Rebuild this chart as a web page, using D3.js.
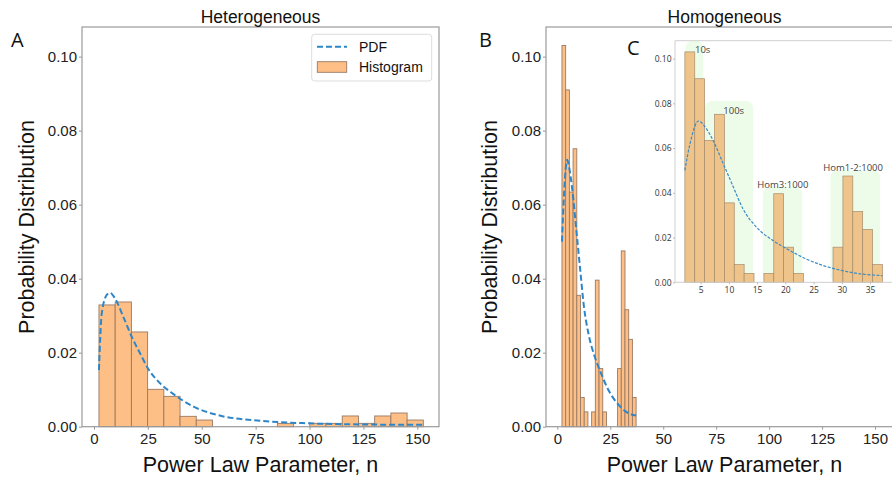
<!DOCTYPE html>
<html>
<head>
<meta charset="utf-8">
<script src="https://cdn.jsdelivr.net/npm/d3@7"></script>
<style>
  body { margin: 0; background: #fff; }
  svg { display: block; font-family: "Liberation Sans", Arial, sans-serif; }
  .frame { fill: none; stroke: #9a9a9a; stroke-width: 1.2; }
  .axis path { display: none; }
  .axis line { stroke: #9a9a9a; }
  .axis text { fill: #222; font-size: 15px; font-family: "Liberation Sans", Arial, sans-serif; }
  .inset .axis text { fill: #333; font-size: 8.5px; font-family: "Open Sans", sans-serif; }
  .inset .axis line { stroke: #bbb; }
</style>
</head>
<body>
<svg id="chart" width="892" height="477"></svg>
<script>
// Heterogeneous histogram (20 bins)
var heteroBinStart = 2.3, heteroBinWidth = 7.525;
var heteroHist = [0.0329, 0.0337, 0.0256, 0.0101, 0.0082, 0.0028, 0.0018, 0, 0, 0,
                  0, 0.0009, 0, 0.0009, 0.0009, 0.0029, 0.0009, 0.0029, 0.0037, 0.0018];
var heteroPdfX = [2.3, 3.6, 5.9, 7.4, 9.7, 13.6, 17.5, 21.4, 25.3, 30.7, 36.9, 46.2, 57.0, 77.1, 100, 125, 152.8];
var heteroPdfY = [0.0153, 0.0306, 0.0356, 0.0362, 0.0347, 0.0297, 0.0243, 0.0198, 0.0155, 0.0117,
                  0.0088, 0.0054, 0.0032, 0.0016, 0.0009, 0.0006, 0.0005];

// Homogeneous histogram (20 bins)
var homoBinStart = 2.2, homoBinWidth = 1.75;
var homoHist = [0.103, 0.091, 0.0634, 0.0751, 0.0355, 0.0079, 0.004, 0, 0.004, 0.0396,
                0.0157, 0.004, 0, 0, 0, 0.0157, 0.0475, 0.0316, 0.0236, 0.0079];
var homoPdfX = [2.2, 3.2, 4.6, 5.8, 7.2, 9.0, 10.8, 12.5, 14.9, 17.8, 20.8, 23.7, 26.7, 29.6, 32.6, 37.2];
var homoPdfY = [0.050, 0.063, 0.0721, 0.0694, 0.0634, 0.053, 0.0425, 0.0328, 0.0246, 0.0187,
                0.0142, 0.0104, 0.0075, 0.0055, 0.0040, 0.0030];

// inset groups
var groupLabels = ["10s", "100s", "Hom3:1000", "Hom1-2:1000"];
var groupX0 = [2.35, 5.75, 16.0, 28.0];
var groupX1 = [5.45, 14.3, 23.0, 36.8];
var groupTop = [0.108, 0.081, 0.0427, 0.050];

var yTicks = [0, 0.02, 0.04, 0.06, 0.08, 0.10];
var xTicks = [0, 25, 50, 75, 100, 125, 150];
var insetXTicks = [5, 10, 15, 20, 25, 30, 35];

var colors = {
    bar: "#fdbf86",
    barEdge: "#9a7a63",
    pdf: "#2d86c9",
    insetBar: "#eec48b",
    insetEdge: "#a68b6c",
    group: "#edfbe9"
};

var svg = d3.select("#chart");

function toPoints(xs, ys) {
    return xs.map(function (x, i) { return { x: x, y: ys[i] }; });
}

function drawPanel(opt) {
    var x = d3.scaleLinear().domain(opt.xDomain).range([opt.left, opt.right]);
    var y = d3.scaleLinear().domain([0, 0.108]).range([426.7, 27]);
    var g = svg.append("g");

    var bins = opt.hist.map(function (v, i) {
        return { x0: opt.binStart + i * opt.binWidth, x1: opt.binStart + (i + 1) * opt.binWidth, v: v };
    }).filter(function (d) { return d.v > 0; });

    g.append("g").selectAll("rect")
        .data(bins)
        .enter()
        .append("rect")
        .attr("x", function (d) { return x(d.x0); })
        .attr("y", function (d) { return y(d.v); })
        .attr("width", function (d) { return x(d.x1) - x(d.x0); })
        .attr("height", function (d) { return y(0) - y(d.v); })
        .attr("fill", colors.bar)
        .attr("stroke", colors.barEdge)
        .attr("stroke-width", 0.9);

    var line = d3.line()
        .x(function (d) { return x(d.x); })
        .y(function (d) { return y(d.y); })
        .curve(d3.curveMonotoneX);

    g.append("path")
        .datum(toPoints(opt.pdfX, opt.pdfY))
        .attr("d", line)
        .attr("fill", "none")
        .attr("stroke", colors.pdf)
        .attr("stroke-width", 2)
        .attr("stroke-dasharray", "6,3");

    g.append("rect")
        .attr("class", "frame")
        .attr("x", opt.left).attr("y", 27)
        .attr("width", opt.right - opt.left).attr("height", 426.7 - 27);

    g.append("g")
        .attr("class", "axis")
        .attr("transform", "translate(" + opt.left + ",0)")
        .call(d3.axisLeft(y).tickValues(yTicks).tickFormat(d3.format(".2f")).tickSize(3).tickPadding(2));

    g.append("g")
        .attr("class", "axis")
        .attr("transform", "translate(0,426.7)")
        .call(d3.axisBottom(x).tickValues(xTicks).tickFormat(d3.format("d")).tickSize(3).tickPadding(3.6));

    var cx = (opt.left + opt.right) / 2;
    g.append("text")
        .attr("x", cx).attr("y", 23)
        .attr("text-anchor", "middle")
        .style("font-size", "17.5px")
        .attr("fill", "#111")
        .text(opt.title);

    g.append("text")
        .attr("x", cx).attr("y", 472)
        .attr("text-anchor", "middle")
        .style("font-size", "21.5px")
        .attr("fill", "#111")
        .text("Power Law Parameter, n");

    g.append("text")
        .attr("transform", "translate(" + opt.ylabelX + ",227) rotate(-90)")
        .attr("text-anchor", "middle")
        .style("font-size", "21.5px")
        .attr("fill", "#111")
        .text("Probability Distribution");

    g.append("text")
        .attr("x", opt.letterX).attr("y", 47)
        .style("font-family", "'Open Sans', sans-serif")
        .style("font-size", "20px")
        .attr("fill", "#111")
        .text(opt.letter);

    return g;
}

drawPanel({
    title: "Heterogeneous", letter: "A", letterX: 11, ylabelX: 33.7,
    left: 82, right: 439, xDomain: [-5.57, 160.07],
    hist: heteroHist, binStart: heteroBinStart, binWidth: heteroBinWidth,
    pdfX: heteroPdfX, pdfY: heteroPdfY
});

drawPanel({
    title: "Homogeneous", letter: "B", letterX: 479, ylabelX: 497,
    left: 546, right: 903, xDomain: [-5.34, 163.2],
    hist: homoHist, binStart: homoBinStart, binWidth: homoBinWidth,
    pdfX: homoPdfX, pdfY: homoPdfY
});

// legend in panel A
var legend = svg.append("g");
legend.append("rect")
    .attr("x", 311.7).attr("y", 34.3).attr("width", 120).attr("height", 46.7)
    .attr("rx", 3)
    .attr("fill", "#fff").attr("stroke", "#ddd");
legend.append("line")
    .attr("x1", 317).attr("x2", 347).attr("y1", 46.7).attr("y2", 46.7)
    .attr("stroke", colors.pdf).attr("stroke-width", 2).attr("stroke-dasharray", "6,3");
legend.append("rect")
    .attr("x", 317.3).attr("y", 61.7).attr("width", 29.4).attr("height", 10.6)
    .attr("fill", colors.bar).attr("stroke", colors.barEdge).attr("stroke-width", 0.9);
legend.append("text").attr("x", 359).attr("y", 52).style("font-size", "14px").attr("fill", "#111").text("PDF");
legend.append("text").attr("x", 359).attr("y", 72).style("font-size", "14px").attr("fill", "#111").text("Histogram");

// inset C
var inset = svg.append("g").attr("class", "inset");
var ix = d3.scaleLinear().domain([0.45, 38.95]).range([675, 892.3]);
var iy = d3.scaleLinear().domain([0, 0.108]).range([282.3, 40.7]);

inset.append("rect")
    .attr("x", 640).attr("y", 32).attr("width", 252).attr("height", 268)
    .attr("fill", "#fff");

inset.append("g").selectAll("rect")
    .data(groupLabels)
    .enter()
    .append("rect")
    .attr("x", function (d, i) { return ix(groupX0[i]); })
    .attr("y", function (d, i) { return iy(groupTop[i]); })
    .attr("width", function (d, i) { return ix(groupX1[i]) - ix(groupX0[i]); })
    .attr("height", function (d, i) { return iy(0) - iy(groupTop[i]); })
    .attr("rx", 7)
    .attr("fill", colors.group);

var iBins = homoHist.map(function (v, i) {
    return { x0: homoBinStart + i * homoBinWidth, x1: homoBinStart + (i + 1) * homoBinWidth, v: v };
}).filter(function (d) { return d.v > 0; });

inset.append("g").selectAll("rect")
    .data(iBins)
    .enter()
    .append("rect")
    .attr("x", function (d) { return ix(d.x0); })
    .attr("y", function (d) { return iy(d.v); })
    .attr("width", function (d) { return ix(d.x1) - ix(d.x0); })
    .attr("height", function (d) { return iy(0) - iy(d.v); })
    .attr("fill", colors.insetBar)
    .attr("stroke", colors.insetEdge)
    .attr("stroke-width", 0.7);

var iline = d3.line()
    .x(function (d) { return ix(d.x); })
    .y(function (d) { return iy(d.y); })
    .curve(d3.curveMonotoneX);

inset.append("path")
    .datum(toPoints(homoPdfX, homoPdfY))
    .attr("d", iline)
    .attr("fill", "none")
    .attr("stroke", "#3a8cc6")
    .attr("stroke-width", 1.2)
    .attr("stroke-dasharray", "3,1.5");

inset.append("path")
    .attr("d", "M892,40.7H675V282.3H892")
    .attr("fill", "none")
    .attr("stroke", "#cfcfcf");

inset.append("g")
    .attr("class", "axis")
    .attr("transform", "translate(675,0)")
    .call(d3.axisLeft(iy).tickValues(yTicks).tickFormat(d3.format(".2f")).tickSize(2).tickPadding(1.5));

inset.append("g")
    .attr("class", "axis")
    .attr("transform", "translate(0,282.3)")
    .call(d3.axisBottom(ix).tickValues(insetXTicks).tickFormat(d3.format("d")).tickSize(2).tickPadding(2.2));

var labelX = [695, 723.3, 757.3, 823.3];
var labelY = [52.7, 114.3, 187.7, 170.7];
inset.append("g").selectAll("text")
    .data(groupLabels)
    .enter()
    .append("text")
    .attr("x", function (d, i) { return labelX[i]; })
    .attr("y", function (d, i) { return labelY[i]; })
    .style("font-family", "'Open Sans', sans-serif")
    .style("font-size", "9.5px")
    .attr("fill", "#444")
    .text(function (d) { return d; });

svg.append("text")
    .attr("x", 627).attr("y", 55)
    .style("font-family", "'Open Sans', sans-serif")
    .style("font-size", "20px")
    .attr("fill", "#111")
    .text("C");
</script>
</body>
</html>
